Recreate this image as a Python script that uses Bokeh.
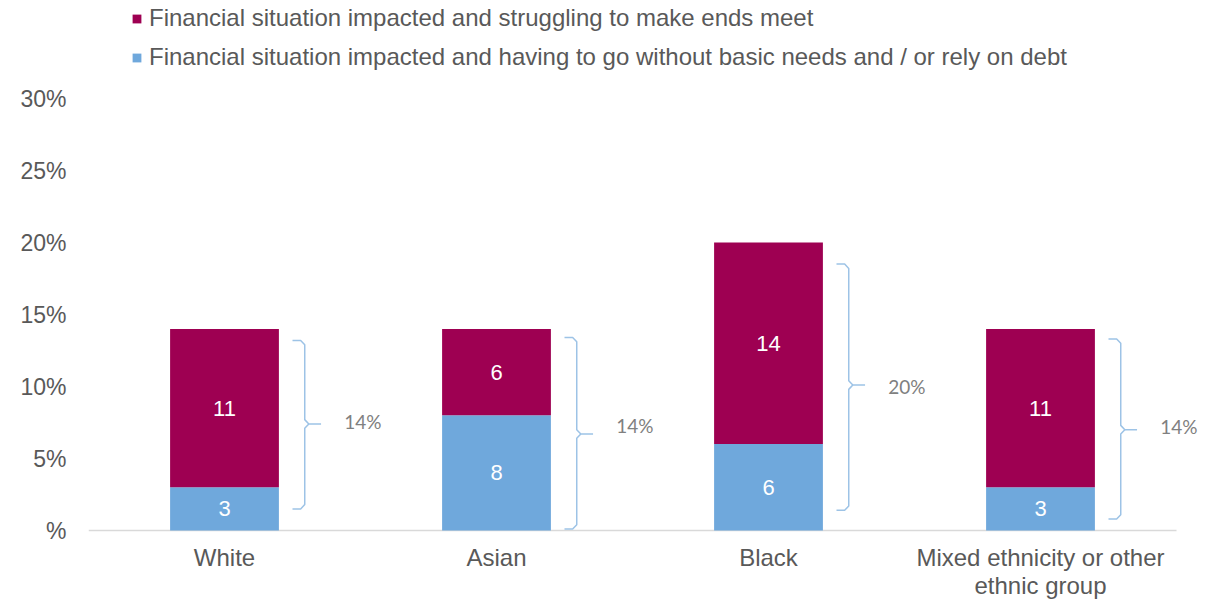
from bokeh.plotting import figure
from bokeh.models import ColumnDataSource, Legend, LegendItem, FixedTicker, Range1d
from bokeh.core.properties import value
from bokeh.embed import file_html
from bokeh.resources import INLINE

# ---- data ----
categories = ["White", "Asian", "Black", "Mixed ethnicity or other\nethnic group"]
go_without = [3, 8, 6, 3]          # blue, bottom segment
struggling = [11, 6, 14, 11]       # maroon, top segment
totals_label = ["14%", "14%", "20%", "14%"]
bracket_top = [13.2, 13.4, 18.5, 13.3]
bracket_bottom = [1.5, 0.1, 1.4, 0.8]
bracket_mid = [7.4, 6.7, 10.1, 7.0]
bracket_label_y = [7.6, 7.3, 10.0, 7.2]
y_ticks = [0, 5, 10, 15, 20, 25, 30]
y_tick_labels = ["%", "5%", "10%", "15%", "20%", "25%", "30%"]
series_names = ["Financial situation impacted and struggling to make ends meet",
                "Financial situation impacted and having to go without basic needs and / or rely on debt"]

MAROON = "#9e0052"
BLUE = "#6fa8dc"
GREY = "#595959"
BRACE = "#9dc3e6"
FONT = "Liberation Sans"

n = len(categories)
xc = [i + 0.5 for i in range(n)]
bar_tops = [a + b for a, b in zip(go_without, struggling)]

# frame: left 88 .. right 1218 (band = 272 px), top 0 .. bottom 599; 0% at 530 px, 5% = 72 px
FRAME_W, FRAME_H = 1130, 599
PX_PER_PCT = 14.4
x_end = FRAME_W / 272.0
y_end = 530 / PX_PER_PCT
y_start = -(FRAME_H - 530) / PX_PER_PCT

p = figure(frame_width=FRAME_W, frame_height=FRAME_H,
           x_range=Range1d(0, x_end), y_range=Range1d(y_start, y_end),
           output_backend="svg", toolbar_location=None,
           min_border_left=88, min_border_right=0, min_border_top=0, min_border_bottom=0)
p.outline_line_color = None
p.background_fill_color = "white"
p.border_fill_color = "white"
p.grid.visible = False

src = ColumnDataSource(dict(x=xc, blue=go_without, maroon=struggling, top=bar_tops,
                            zero=[0] * n,
                            blue_mid=[b / 2 for b in go_without],
                            maroon_mid=[b + m / 2 for b, m in zip(go_without, struggling)],
                            blue_txt=[str(v) for v in go_without],
                            maroon_txt=[str(v) for v in struggling]))

# x-axis baseline spanning the category bands only
p.segment(x0=[0], y0=[0], x1=[n], y1=[0], line_color="#d9d9d9", line_width=1.5)

r_blue = p.vbar(x="x", bottom="zero", top="blue", width=0.4, source=src,
                fill_color=BLUE, line_color=None)
r_maroon = p.vbar(x="x", bottom="blue", top="top", width=0.4, source=src,
                  fill_color=MAROON, line_color=None)

p.text(x="x", y="blue_mid", text="blue_txt", source=src, text_color="white",
       text_font=value(FONT), text_font_size="22px", text_align="center", text_baseline="middle")
p.text(x="x", y="maroon_mid", text="maroon_txt", source=src, text_color="white",
       text_font=value(FONT), text_font_size="22px", text_align="center", text_baseline="middle")

# category labels (x-axis tick labels), one text per line
lab_x, lab_t, lab_off = [], [], []
for i, cat in enumerate(categories):
    for j, line in enumerate(cat.split("\n")):
        lab_x.append(xc[i])
        lab_t.append(line)
        lab_off.append(13 + 28 * j)
p.text(x=lab_x, y=[0] * len(lab_x), text=lab_t, y_offset=lab_off, text_color=GREY,
       text_font=value(FONT), text_font_size="24px", text_align="center", text_baseline="top")

# ---- brackets ----
L, V, T = 0.25, 0.295, 0.355
rx, ry = 0.015, 0.3
xs, ys = [], []
for i in range(n):
    c = xc[i]
    tp, bt, md = bracket_top[i], bracket_bottom[i], bracket_mid[i]
    xs.append([c + L, c + V - rx, c + V, c + V, c + V + rx, c + T])
    ys.append([tp, tp, tp - ry, md + ry, md, md])
    xs.append([c + V + rx, c + V, c + V, c + V - rx, c + L])
    ys.append([md, md - ry, bt + ry, bt, bt])
p.multi_line(xs=xs, ys=ys, line_color=BRACE, line_width=1.5)

p.text(x=[c + 0.44 for c in xc], y=bracket_label_y, text=totals_label,
       text_color="#808080", text_font=value("Lato"), text_font_size="19px",
       text_align="left", text_baseline="middle")

# ---- axes ----
p.xaxis.visible = False
p.yaxis.ticker = FixedTicker(ticks=y_ticks)
p.yaxis.major_label_overrides = {t: l for t, l in zip(y_ticks, y_tick_labels)}
p.yaxis.axis_line_color = None
p.yaxis.major_tick_line_color = None
p.yaxis.minor_tick_line_color = None
p.yaxis.major_label_standoff = 16
p.yaxis.major_label_text_font = FONT
p.yaxis.major_label_text_font_size = "23px"
p.yaxis.major_label_text_color = GREY

# ---- legend ----
legend = Legend(items=[LegendItem(label=series_names[0], renderers=[r_maroon]),
                       LegendItem(label=series_names[1], renderers=[r_blue])],
                location=(43, 528), orientation="vertical",
                glyph_width=11, glyph_height=11, label_standoff=7, spacing=11,
                padding=0, margin=0, border_line_color=None, background_fill_alpha=0,
                label_text_font=FONT, label_text_font_size="24px", label_text_color=GREY,
                label_height=26)
p.add_layout(legend, "center")

open("out.html", "w").write(file_html(p, INLINE))
